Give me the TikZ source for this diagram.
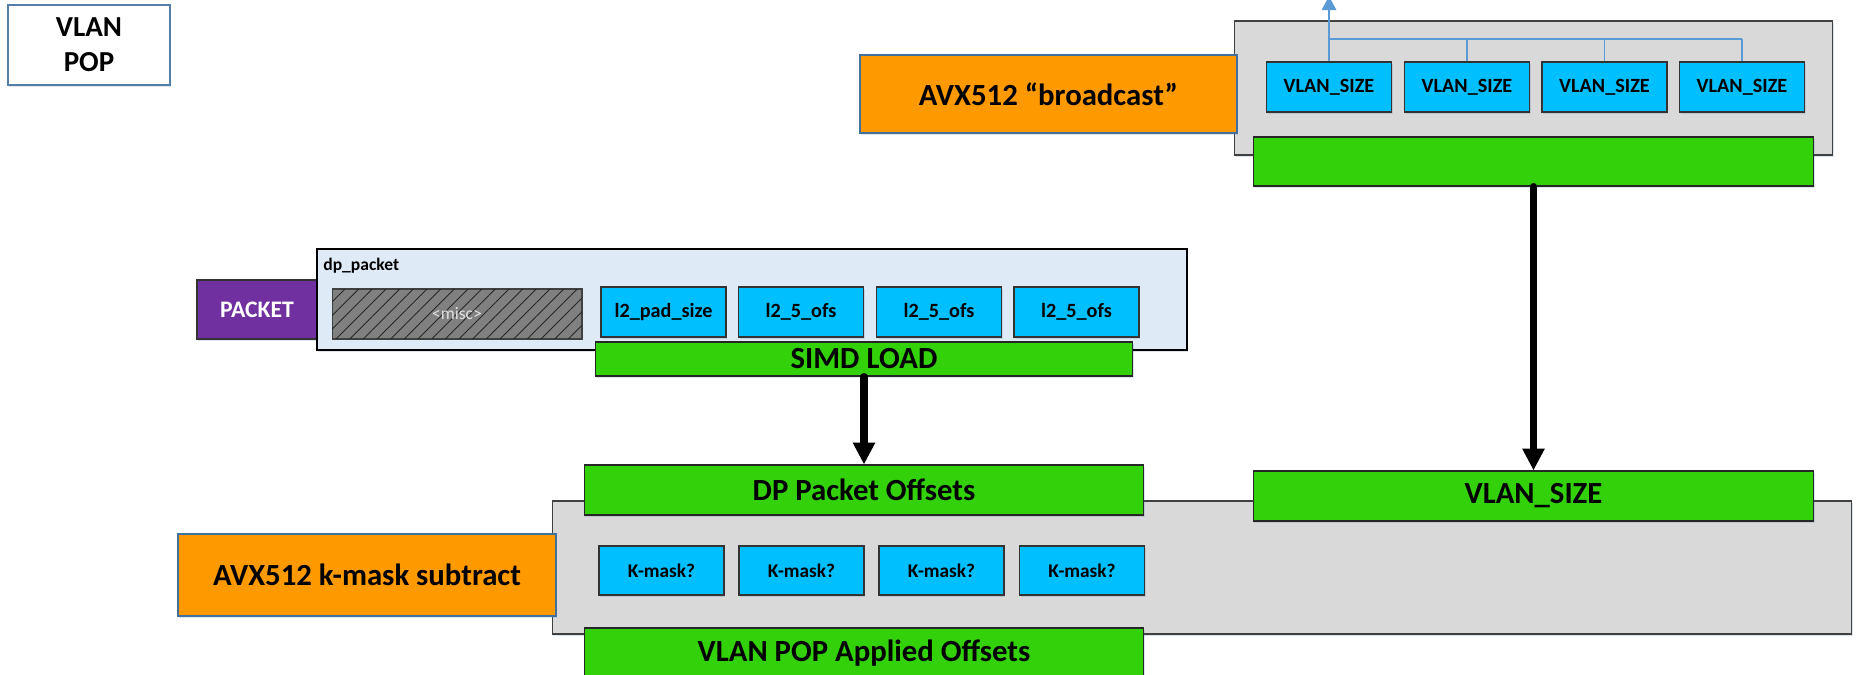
\documentclass[tikz,border=0pt]{standalone}
\usepackage{fontspec}
\setmainfont{Carlito}
\usetikzlibrary{arrows.meta}
\usetikzlibrary{patterns.meta}
\usetikzlibrary{shadows}
\definecolor{boxorange}{HTML}{FF9900}
\definecolor{boxgreen}{HTML}{33D10A}
\definecolor{boxcyan}{HTML}{00BFFF}
\definecolor{boxpurple}{HTML}{7030A0}
\definecolor{boxgray}{HTML}{D9D9D9}
\definecolor{pktblue}{HTML}{DEEAF6}
\definecolor{edgeblue}{HTML}{41719C}
\definecolor{wireblue}{HTML}{5B9BD5}
\tikzset{
	%	softshadow/.style={drop shadow},
	softshadow/.style={drop shadow={shadow xshift=0.6pt,shadow yshift=-1.2pt,opacity=0.18,fill=edgeblue}},
	titlebox/.style={draw=edgeblue!90,line width=1.2pt,fill=white,align=center,inner sep=0pt,softshadow,font=\bfseries\fontsize{16.5}{20}\selectfont},
	opbox/.style={draw=edgeblue,line width=0.9pt,fill=boxorange,inner sep=0pt,softshadow,font=\bfseries\fontsize{17.5}{21}\selectfont},
	regbox/.style={draw=black!85,line width=0.6pt,fill=boxgreen,inner sep=0pt,softshadow,font=\bfseries\fontsize{17.5}{21}\selectfont},
	lanebox/.style={draw=black!80,line width=0.6pt,fill=boxcyan,inner sep=0pt,minimum width=2.5cm,minimum height=1cm,softshadow,font=\bfseries\fontsize{11.5}{14}\selectfont},
	unitbox/.style={draw=black!75,line width=0.6pt,fill=boxgray,inner sep=0pt,softshadow},
	wire/.style={wireblue,line width=0.9pt},
	edge/.style={-{Triangle[length=12.5pt,width=12pt]},line width=4pt,line cap=round}
}
\begin{document}
\begin{tikzpicture}[x=0.02cm,y=-0.02cm]
		\clip (0,0) rectangle (1874,675);
		
		\node[titlebox,minimum width=3.24cm,minimum height=1.6cm] (vlanpop) at (89,45) {VLAN\\POP};
		
		% broadcast
		\node[unitbox,minimum width=11.98cm,minimum height=2.68cm] (bcastunit) at (1533.5,88) {};
		\node[lanebox] (vs1) at (1329,87) {VLAN\_SIZE};
		\node[lanebox] (vs2) at (1467,87) {VLAN\_SIZE};
		\node[lanebox] (vs3) at (1604.5,87) {VLAN\_SIZE};
		\node[lanebox] (vs4) at (1742,87) {VLAN\_SIZE};
		\coordinate (busl) at (1329,39);
		\coordinate (busr) at (1742,39);
		\coordinate (bcastin) at (1329,-4);
		\draw[wire] (busl) -- (busr);
		\draw[wire] (vs2.north) -- (vs2.north |- busl);
		\draw[wire] (vs3.north) -- (vs3.north |- busl);
		\draw[wire] (vs4.north) -- (busr);
		\draw[wire,line width=1.6pt,-{Triangle[length=8pt,width=8pt]}] (vs1.north) -- (bcastin);
		\node[opbox,minimum width=7.54cm,minimum height=1.56cm] (bcast) at (1048.5,94) {AVX512 “broadcast”};
		\node[regbox,minimum width=11.22cm,minimum height=0.98cm] (bcastout) at (1533.5,161.5) {};
		
		% packet
		\node[draw=black!80,line width=0.6pt,fill=boxpurple,text=white,inner sep=0pt,minimum width=2.4cm,minimum height=1.18cm,softshadow,font=\bfseries\fontsize{13.5}{16}\selectfont] (packet) at (257,309.5) {PACKET};
		\node[draw=black,line width=0.8pt,fill=pktblue,inner sep=0pt,minimum width=17.4cm,minimum height=2.02cm,softshadow] (dppacket) at (752,299.5) {};
		\node[anchor=base west,inner sep=0pt,font=\bfseries\fontsize{10}{12}\selectfont] (dplabel) at (323,271) {dp\_packet};
		\node[draw=black!75,line width=0.6pt,fill=black!50,inner sep=0pt,minimum width=5cm,minimum height=1cm,text=black!12,font=\fontsize{10}{12}\selectfont,
			postaction={pattern={Lines[angle=45,distance=5.5pt,line width=0.5pt]},pattern color=black!85}] (misc) at (457,314) {<misc>};
		\node[lanebox] (pad) at (663.5,312) {l2\_pad\_size};
		\node[lanebox] (ofs1) at (801,312) {l2\_5\_ofs};
		\node[lanebox] (ofs2) at (939,312) {l2\_5\_ofs};
		\node[lanebox] (ofs3) at (1076.5,312) {l2\_5\_ofs};
		\node[regbox,minimum width=10.76cm,minimum height=0.68cm] (simd) at (864,359) {SIMD LOAD};
		
		% subtract
		\node[unitbox,minimum width=26cm,minimum height=2.66cm] (subunit) at (1202,567.5) {};
		\node[regbox,minimum width=11.2cm,minimum height=1cm] (dpoffs) at (864,490) {DP Packet Offsets};
		\node[regbox,minimum width=11.22cm,minimum height=1cm] (vlansize) at (1533.5,496) {VLAN\_SIZE};
		\node[regbox,minimum width=11.2cm,minimum height=1cm] (applied) at (864,653) {VLAN POP Applied Offsets};
		\node[opbox,minimum width=7.56cm,minimum height=1.64cm] (kmask) at (367,575) {AVX512 k-mask subtract};
		\node[lanebox,minimum height=0.98cm,font=\bfseries\fontsize{11}{13}\selectfont] (km1) at (661.5,570.5) {K-mask?};
		\node[lanebox,minimum height=0.98cm,font=\bfseries\fontsize{11}{13}\selectfont] (km2) at (801.5,570.5) {K-mask?};
		\node[lanebox,minimum height=0.98cm,font=\bfseries\fontsize{11}{13}\selectfont] (km3) at (941.5,570.5) {K-mask?};
		\node[lanebox,minimum height=0.98cm,font=\bfseries\fontsize{11}{13}\selectfont] (km4) at (1082,570.5) {K-mask?};
		
		\draw[edge] (simd.south) -- (dpoffs.north);
		\draw[edge] (bcastout.south) -- (vlansize.north);
		\end{tikzpicture}
\end{document}
